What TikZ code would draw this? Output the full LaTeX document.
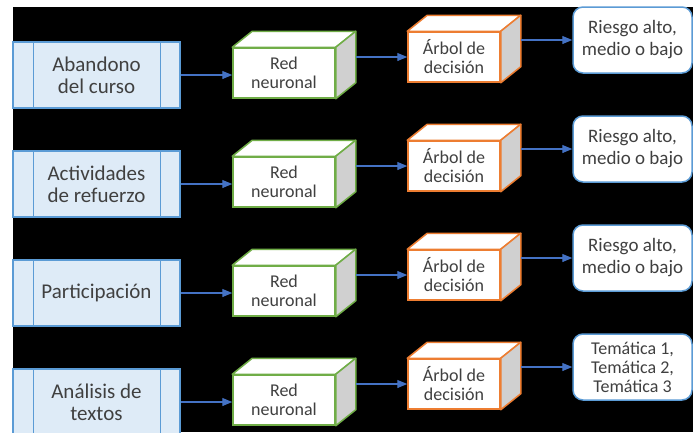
\documentclass[tikz,border=0pt]{standalone}
\usepackage{fontspec}
\setmainfont{Carlito}
\usetikzlibrary{arrows.meta,positioning}
\definecolor{inblue}{RGB}{222,235,247}
\definecolor{inedge}{RGB}{91,155,213}
\definecolor{nngreen}{RGB}{112,173,71}
\definecolor{dtorange}{RGB}{237,125,49}
\definecolor{arrblue}{RGB}{68,114,196}
\definecolor{sidegray}{RGB}{208,208,208}
\definecolor{txtgray}{RGB}{64,64,64}
% top and side faces of a box drawn as a cube
\newcommand{\cubedepth}[2]{%
  \draw[#2, line width=1.5pt, line join=round, fill=white] (#1.north west) -- ([shift={(20,-16)}]#1.north west)
    -- ([shift={(20,-16)}]#1.north east) -- (#1.north east) -- cycle;
  \draw[#2, line width=1.5pt, line join=round, fill=sidegray] (#1.north east) -- ([shift={(20,-16)}]#1.north east)
    -- ([shift={(20,-16)}]#1.south east) -- (#1.south east) -- cycle;}

\begin{document}
\begin{tikzpicture}[x=1pt, y=-1pt,
  inbox/.style={draw=inedge, fill=inblue, line width=1.2pt, minimum width=167pt, minimum height=66pt,
    align=center, font=\fontsize{21}{22}\selectfont, text=txtgray},
  face/.style={draw, fill=white, line width=1.5pt, minimum height=50pt, inner sep=0pt,
    align=center, font=\fontsize{18}{19}\selectfont, text=txtgray},
  outbox/.style={draw=inedge, fill=white, rounded corners=10pt, line width=1.5pt, minimum width=119pt,
    minimum height=66pt, align=center, text=txtgray},
  risk/.style={font=\fontsize{19}{22}\selectfont},
  topics/.style={font=\fontsize{18}{19}\selectfont},
  flow/.style={-{Triangle[length=10pt,width=8pt]}, draw=arrblue, fill=arrblue, line width=1.2pt}]
% Background
\useasboundingbox[fill=white] (0,0) rectangle (697,432);
\fill[black] (13,7) rectangle (693,432);
% Rows
\foreach \intxt/\outtxt/\outsty [count=\r from 0] in
  {{Abandono\\del curso}/{Riesgo alto,\\medio o bajo}/risk,
   {Actividades\\de refuerzo}/{Riesgo alto,\\medio o bajo}/risk,
   {Participación}/{Riesgo alto,\\medio o bajo}/risk,
   {Análisis de\\textos}/{Temática 1,\\Temática 2,\\Temática 3}/topics}{
  % Input
  \node[inbox] (in\r) at (96.5,75+109*\r) {\intxt};
  \draw[inedge, line width=1.2pt] ([xshift=21pt]in\r.north west) -- ([xshift=21pt]in\r.south west);
  \draw[inedge, line width=1.2pt] ([xshift=-20pt]in\r.north east) -- ([xshift=-20pt]in\r.south east);
  % Neural network
  \node[face, draw=nngreen, minimum width=102pt] (nn\r) at (284,73+109*\r) {Red\\neuronal};
  \cubedepth{nn\r}{nngreen}
  % Decision tree
  \node[face, draw=dtorange, minimum width=92pt] (dt\r) at (454,57+109*\r) {Árbol de\\decisión};
  \cubedepth{dt\r}{dtorange}
  % Result
  \node[outbox, \outsty] (out\r) at (632.5,40+109*\r) {\outtxt};
  % Arrows
  \draw[flow] (in\r.east) -- (in\r.east -| nn\r.west);
  \draw[flow] ([xshift=20pt]nn\r.east |- dt\r.west) -- (dt\r.west);
  \draw[flow] ([xshift=20pt]dt\r.east |- out\r.west) -- (out\r.west);
}
\end{tikzpicture}
\end{document}
